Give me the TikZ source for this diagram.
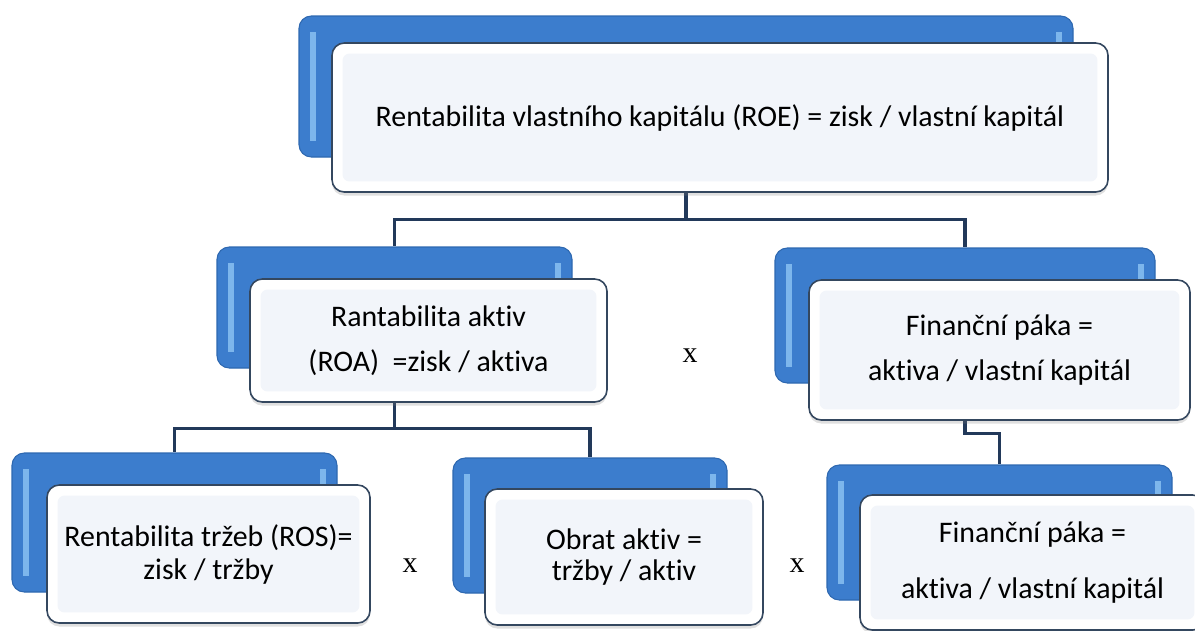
\documentclass[tikz,border=0pt]{standalone}
\usepackage{fontspec}
\setmainfont{Carlito}[Ligatures=NoCommon]
\newfontfamily\xfont{Liberation Serif}
\usetikzlibrary{shadows}

\definecolor{backblue}{HTML}{3C7DCD}
\definecolor{backedge}{HTML}{2E68B0}
\definecolor{backhi}{HTML}{7DB6EC}
\definecolor{frontin}{HTML}{F2F5FA}
\definecolor{frontedge}{HTML}{34475F}
\definecolor{conncol}{HTML}{22395A}

\tikzset{
  sz/.style 2 args={minimum width=#1*0.02cm, minimum height=#2*0.02cm},
  backbox/.style={rectangle, rounded corners=7pt, fill=backblue, draw=backedge,
    line width=0.6pt, inner sep=0pt,
    path picture={
      \fill[sharp corners, backhi]
        ([xshift=6pt,yshift=-9pt]path picture bounding box.north west)
        rectangle ([xshift=9.5pt,yshift=9pt]path picture bounding box.south west);
      \fill[sharp corners, backhi]
        ([xshift=-9.5pt,yshift=-9pt]path picture bounding box.north east)
        rectangle ([xshift=-6pt,yshift=9pt]path picture bounding box.south east);
    }},
  frontbox/.style={rectangle, rounded corners=7pt, fill=white, draw=frontedge,
    line width=0.9pt, inner sep=0pt, align=center,
    drop shadow={opacity=.25, shadow xshift=0pt, shadow yshift=-2pt},
    path picture={
      \fill[frontin, rounded corners=4pt]
        ([xshift=6pt,yshift=-6pt]path picture bounding box.north west)
        rectangle ([xshift=-6pt,yshift=6pt]path picture bounding box.south east);
    }},
  conn/.style={draw=conncol, line width=2pt},
  xlab/.style={font=\xfont\fontsize{17}{20}\selectfont}
}

\begin{document}
\begin{tikzpicture}[x=0.02cm,y=-0.02cm,font=\fontsize{17}{20.4}\selectfont]
  \clip (0,0) rectangle (1195,630);
  % blue boxes behind
  \node[backbox,sz={774}{141}](roeB)at(686,86.5){};
  \node[backbox,sz={355}{121}](roaB)at(394.5,307.5){};
  \node[backbox,sz={380}{135}](pakaB)at(965,315.5){};
  \node[backbox,sz={325}{139}](rosB)at(174.5,522.5){};
  \node[backbox,sz={274}{135}](obratB)at(590,525.5){};
  \node[backbox,sz={345}{135}](paka2B)at(999.5,532.5){};
  % connectors
  \draw[conn] (roeB.south) -- ++(0,62) -| (roaB.north);
  \draw[conn] (roeB.south) -- ++(0,62) -| (pakaB.north);
  \draw[conn] (roaB.south) -- ++(0,60) -| (rosB.north);
  \draw[conn] (roaB.south) -- ++(0,60) -| (obratB.north);
  \draw[conn] (pakaB.south) -- ++(0,50) -| (paka2B.north);
  % white boxes in front
  \node[frontbox,sz={776}{149}](roe)at(720,117.5){Rentabilita vlastního kapitálu (ROE) = zisk / vlastní kapitál};
  \node[frontbox,sz={357}{123},font=\fontsize{17}{25.6}\selectfont](roa)at(428.5,340.5){Rantabilita aktiv\\(ROA)\ \ =zisk / aktiva};
  \node[frontbox,sz={381}{140},font=\fontsize{17}{25.6}\selectfont](paka)at(999.5,350){Finanční páka =\\aktiva / vlastní kapitál};
  \node[frontbox,sz={323}{138},font=\fontsize{17}{18.8}\selectfont](ros)at(208.5,554){Rentabilita tržeb (ROS)=\\zisk / tržby};
  \node[frontbox,sz={278}{136},font=\fontsize{17}{17.8}\selectfont](obrat)at(624,557){Obrat aktiv =\\tržby / aktiv};
  \node[frontbox,sz={345}{135},font=\fontsize{17}{31.9}\selectfont](paka2)at(1032.5,562.5){Finanční páka =\\aktiva / vlastní kapitál};
  % multiplication signs
  \node[xlab](x1)at(690,356){x};
  \node[xlab](x2)at(410,566){x};
  \node[xlab](x3)at(797,566){x};
\end{tikzpicture}
\end{document}
